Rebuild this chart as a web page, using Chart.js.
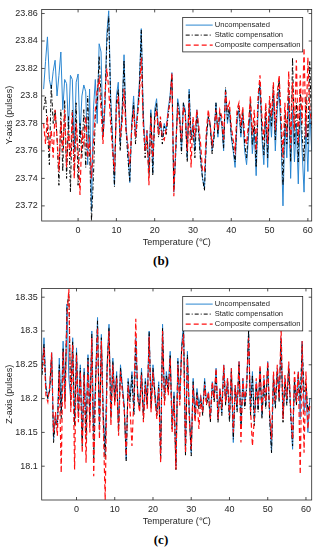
<!DOCTYPE html>
<html>
<head>
<meta charset="utf-8">
<script src="https://cdn.jsdelivr.net/npm/chart.js@4.4.1/dist/chart.umd.min.js"></script>
<style>
body{margin:0;background:#fff;width:322px;height:550px;position:relative;overflow:hidden}
.box{position:absolute;left:0;width:322px;height:250px}
.cap{position:absolute;left:0;width:322px;text-align:center;font:bold 13px/15px "Liberation Serif",serif;color:#000}
</style>
</head>
<body>
<div class="box" style="top:0"><canvas id="chartB"></canvas></div>
<div class="cap" style="top:253px">(b)</div>
<div class="box" style="top:279px"><canvas id="chartC"></canvas></div>
<div class="cap" style="top:532px">(c)</div>
<script>
// temperature samples (℃), shared by both panels
const temps = [-9,-8.5,-8,-7.5,-7,-6.5,-6,-5.5,-5,-4.5,-4,-3.5,-3,-2.5,-2,-1.5,-1,-0.5,0,0.5,1,1.5,2,2.5,3,3.5,4,4.5,5,5.5,6,6.5,7,7.5,8,8.5,9,9.5,10,10.5,11,11.5,12,12.5,13,13.5,14,14.5,15,15.5,16,16.5,17,17.5,18,18.5,19,19.5,20,20.5,21,21.5,22,22.5,23,23.5,24,24.5,25,25.5,26,26.5,27,27.5,28,28.5,29,29.5,30,30.5,31,31.5,32,32.5,33,33.5,34,34.5,35,35.5,36,36.5,37,37.5,38,38.5,39,39.5,40,40.5,41,41.5,42,42.5,43,43.5,44,44.5,45,45.5,46,46.5,47,47.5,48,48.5,49,49.5,50,50.5,51,51.5,52,52.5,53,53.5,54,54.5,55,55.5,56,56.5,57,57.5,58,58.5,59,59.5,60,60.5,61]

const labels = ['Uncompensated','Static compensation','Composite compensation']
const xTicks = [0,10,20,30,40,50,60]

// (b) Y-axis
const yUncomp = [23.805,23.825,23.843,23.812,23.805,23.818,23.826,23.800,23.815,23.832,23.790,23.812,23.809,23.775,23.815,23.812,23.760,23.810,23.816,23.770,23.800,23.808,23.803,23.750,23.805,23.716,23.790,23.812,23.780,23.838,23.832,23.770,23.790,23.845,23.862,23.800,23.770,23.735,23.800,23.810,23.765,23.790,23.830,23.780,23.760,23.737,23.780,23.800,23.770,23.790,23.810,23.849,23.790,23.760,23.775,23.745,23.790,23.744,23.790,23.798,23.775,23.780,23.770,23.780,23.775,23.790,23.800,23.817,23.730,23.760,23.798,23.790,23.760,23.795,23.790,23.755,23.805,23.770,23.780,23.760,23.790,23.775,23.755,23.740,23.733,23.770,23.785,23.780,23.760,23.770,23.795,23.770,23.785,23.780,23.760,23.805,23.780,23.790,23.770,23.760,23.748,23.780,23.790,23.770,23.785,23.760,23.750,23.770,23.790,23.758,23.775,23.742,23.790,23.810,23.770,23.750,23.785,23.748,23.790,23.770,23.800,23.760,23.790,23.805,23.770,23.720,23.780,23.755,23.800,23.740,23.790,23.752,23.780,23.736,23.790,23.760,23.730,23.780,23.745,23.790,23.760]
const yStatic = [23.790,23.800,23.775,23.750,23.808,23.780,23.790,23.770,23.735,23.790,23.745,23.797,23.740,23.785,23.730,23.790,23.745,23.795,23.735,23.780,23.755,23.790,23.748,23.800,23.760,23.709,23.740,23.785,23.795,23.829,23.800,23.772,23.795,23.838,23.858,23.795,23.765,23.734,23.795,23.805,23.760,23.788,23.826,23.776,23.755,23.738,23.778,23.795,23.765,23.785,23.805,23.848,23.785,23.755,23.770,23.742,23.788,23.742,23.785,23.795,23.770,23.782,23.765,23.778,23.772,23.785,23.798,23.815,23.732,23.758,23.795,23.785,23.758,23.795,23.787,23.752,23.803,23.768,23.778,23.755,23.788,23.772,23.752,23.740,23.731,23.768,23.785,23.778,23.758,23.770,23.795,23.772,23.788,23.782,23.762,23.806,23.783,23.792,23.772,23.762,23.752,23.785,23.793,23.773,23.790,23.765,23.755,23.776,23.797,23.764,23.782,23.748,23.796,23.810,23.775,23.757,23.792,23.755,23.797,23.778,23.808,23.768,23.797,23.812,23.778,23.735,23.788,23.765,23.810,23.752,23.828,23.765,23.795,23.752,23.805,23.772,23.752,23.800,23.765,23.825,23.775]
const yComposite = [23.780,23.765,23.785,23.760,23.775,23.755,23.790,23.770,23.745,23.782,23.760,23.790,23.748,23.775,23.755,23.788,23.740,23.780,23.760,23.728,23.775,23.765,23.785,23.755,23.770,23.740,23.765,23.790,23.805,23.812,23.790,23.765,23.800,23.820,23.805,23.780,23.760,23.745,23.790,23.800,23.770,23.780,23.805,23.775,23.765,23.750,23.775,23.790,23.770,23.785,23.800,23.828,23.780,23.760,23.775,23.735,23.785,23.755,23.780,23.790,23.772,23.785,23.770,23.768,23.776,23.788,23.795,23.817,23.727,23.765,23.790,23.782,23.768,23.792,23.785,23.760,23.795,23.748,23.785,23.770,23.790,23.778,23.765,23.745,23.745,23.775,23.790,23.778,23.765,23.775,23.790,23.775,23.790,23.785,23.768,23.803,23.790,23.795,23.778,23.768,23.760,23.790,23.795,23.778,23.792,23.770,23.765,23.780,23.800,23.772,23.790,23.760,23.800,23.815,23.785,23.768,23.795,23.765,23.800,23.785,23.810,23.775,23.802,23.815,23.785,23.755,23.795,23.770,23.818,23.762,23.810,23.775,23.826,23.765,23.815,23.780,23.835,23.770,23.828,23.790,23.780]
const yTicksB = [23.72,23.74,23.76,23.78,23.8,23.82,23.84,23.86]

// (c) Z-axis
const zUncomp = [18.240,18.290,18.220,18.200,18.215,18.268,18.140,18.175,18.160,18.260,18.180,18.285,18.200,18.340,18.230,18.200,18.290,18.165,18.275,18.180,18.250,18.140,18.245,18.150,18.265,18.175,18.300,18.150,18.230,18.320,18.160,18.295,18.180,18.120,18.250,18.310,18.175,18.260,18.200,18.240,18.160,18.250,18.220,18.190,18.110,18.230,18.200,18.240,18.180,18.290,18.210,18.190,18.245,18.175,18.230,18.195,18.300,18.190,18.250,18.210,18.180,18.225,18.115,18.310,18.200,18.240,18.215,18.270,18.160,18.210,18.100,18.260,18.200,18.280,18.310,18.120,18.270,18.180,18.120,18.230,18.175,18.215,18.190,18.205,18.180,18.230,18.195,18.210,18.170,18.225,18.200,18.245,18.170,18.215,18.180,18.250,18.195,18.230,18.170,18.245,18.135,18.220,18.185,18.255,18.160,18.230,18.190,18.220,18.300,18.180,18.240,18.165,18.225,18.185,18.245,18.175,18.230,18.190,18.255,18.175,18.120,18.235,18.190,18.245,18.200,18.290,18.170,18.230,18.195,18.250,18.180,18.125,18.230,18.195,18.240,18.170,18.285,18.180,18.210,18.150,18.200]
const zStatic = [18.235,18.280,18.215,18.200,18.212,18.265,18.135,18.170,18.155,18.250,18.170,18.275,18.195,18.335,18.355,18.190,18.285,18.160,18.268,18.172,18.245,18.130,18.240,18.140,18.260,18.165,18.295,18.110,18.225,18.315,18.150,18.290,18.170,18.110,18.245,18.305,18.170,18.255,18.195,18.235,18.150,18.245,18.215,18.185,18.108,18.225,18.195,18.235,18.175,18.285,18.205,18.185,18.240,18.170,18.225,18.190,18.298,18.185,18.245,18.205,18.175,18.220,18.110,18.305,18.195,18.235,18.210,18.265,18.155,18.205,18.095,18.255,18.195,18.275,18.300,18.115,18.265,18.175,18.115,18.225,18.170,18.210,18.185,18.200,18.175,18.225,18.190,18.205,18.165,18.220,18.195,18.240,18.165,18.210,18.175,18.245,18.190,18.225,18.165,18.240,18.140,18.215,18.180,18.250,18.155,18.225,18.185,18.215,18.302,18.175,18.235,18.160,18.220,18.180,18.240,18.170,18.225,18.185,18.250,18.170,18.120,18.230,18.185,18.240,18.195,18.285,18.165,18.225,18.190,18.245,18.175,18.130,18.225,18.190,18.235,18.200,18.280,18.210,18.225,18.180,18.195]
const zComposite = [18.245,18.275,18.205,18.195,18.220,18.268,18.150,18.180,18.145,18.240,18.090,18.270,18.185,18.320,18.362,18.180,18.280,18.095,18.265,18.165,18.240,18.120,18.235,18.105,18.255,18.150,18.290,18.085,18.220,18.305,18.140,18.285,18.160,18.050,18.240,18.300,18.160,18.250,18.190,18.230,18.145,18.240,18.210,18.180,18.115,18.220,18.185,18.130,18.200,18.318,18.200,18.180,18.235,18.165,18.220,18.185,18.292,18.180,18.240,18.200,18.170,18.215,18.105,18.300,18.190,18.230,18.205,18.260,18.150,18.200,18.095,18.250,18.190,18.270,18.295,18.120,18.260,18.170,18.125,18.220,18.165,18.205,18.155,18.200,18.180,18.220,18.195,18.210,18.170,18.225,18.200,18.245,18.170,18.215,18.185,18.250,18.195,18.230,18.175,18.245,18.150,18.220,18.190,18.255,18.135,18.230,18.195,18.225,18.290,18.185,18.130,18.170,18.230,18.190,18.250,18.180,18.235,18.195,18.255,18.180,18.140,18.240,18.195,18.250,18.200,18.305,18.170,18.235,18.200,18.255,18.185,18.140,18.240,18.195,18.240,18.088,18.285,18.120,18.240,18.155,18.190]
const zTicksC = [18.1,18.15,18.2,18.25,18.3,18.35]

Chart.defaults.font.family = '"Liberation Sans", Arial, sans-serif'
Chart.defaults.font.size = 9
Chart.defaults.color = '#262626'

const styles = [
    {color: '#2a86d1', dash: [], width: 1, order: 3},
    {color: '#000000', dash: [4,2,1,2], width: 1, order: 2},
    {color: '#ff1010', dash: [5,3], width: 1.2, order: 1}
]

// matlab style box, inward ticks and legend inside the axes
const matlabBox = {
    id: 'matlabBox',
    afterDraw(chart){
        const ctx = chart.ctx
        const a = chart.chartArea
        const sx = chart.scales.x
        const sy = chart.scales.y
        ctx.save()
        ctx.strokeStyle = '#262626'
        ctx.lineWidth = 0.8
        ctx.setLineDash([])
        ctx.strokeRect(a.left, a.top, a.right - a.left, a.bottom - a.top)
        ctx.beginPath()
        sx.ticks.forEach(t => {
            const px = sx.getPixelForValue(t.value)
            ctx.moveTo(px, a.bottom); ctx.lineTo(px, a.bottom - 3)
            ctx.moveTo(px, a.top); ctx.lineTo(px, a.top + 3)
        })
        sy.ticks.forEach(t => {
            const py = sy.getPixelForValue(t.value)
            ctx.moveTo(a.left, py); ctx.lineTo(a.left + 3, py)
            ctx.moveTo(a.right, py); ctx.lineTo(a.right - 3, py)
        })
        ctx.stroke()

        // legend
        const w = 120, h = 34.5
        const lx = a.right - 9 - w
        const ly = a.top + 8
        ctx.fillStyle = '#fff'
        ctx.fillRect(lx, ly, w, h)
        ctx.strokeRect(lx, ly, w, h)
        ctx.font = '7.6px "Liberation Sans", Arial, sans-serif'
        ctx.textBaseline = 'middle'
        labels.forEach((lab, i) => {
            const ry = ly + 7.7 + i * 10
            const st = styles[i]
            ctx.beginPath()
            ctx.strokeStyle = st.color
            ctx.lineWidth = st.width
            ctx.setLineDash(st.dash)
            ctx.moveTo(lx + 3, ry); ctx.lineTo(lx + 30, ry)
            ctx.stroke()
            ctx.fillStyle = '#262626'
            ctx.fillText(lab, lx + 32, ry)
        })
        ctx.restore()
    }
}

function makeChart(id, series, yMin, yMax, yTicks, xMin, xMax, yTitle){
    return new Chart(document.getElementById(id), {
        type: 'line',
        data: {
            datasets: series.map((vals, i) => ({
                label: labels[i],
                data: temps.map((t, j) => ({x: t, y: vals[j]})),
                borderColor: styles[i].color,
                borderDash: styles[i].dash,
                borderWidth: styles[i].width,
                order: styles[i].order,
                pointRadius: 0,
                tension: 0,
                fill: false
            }))
        },
        options: {
            responsive: true,
            maintainAspectRatio: false,
            animation: false,
            layout: {padding: {top: 9.3, right: 10.3, left: 0, bottom: 0}},
            plugins: {legend: {display: false}, tooltip: {enabled: false}},
            scales: {
                x: {
                    type: 'linear', min: xMin, max: xMax,
                    grid: {display: false, drawTicks: false},
                    border: {display: false},
                    afterBuildTicks: s => { s.ticks = xTicks.map(v => ({value: v})) },
                    afterFit: s => { s.height = 29 },
                    ticks: {padding: 4, maxRotation: 0, callback: v => String(v)},
                    title: {display: true, text: 'Temperature (℃)', padding: {top: 0, bottom: 2}, font: {size: 9}}
                },
                y: {
                    min: yMin, max: yMax,
                    grid: {display: false, drawTicks: false},
                    border: {display: false},
                    afterBuildTicks: s => { s.ticks = yTicks.map(v => ({value: v})) },
                    afterFit: s => { s.width = 41.7 },
                    ticks: {padding: 4, callback: v => String(+(+v).toFixed(2))},
                    title: {display: true, text: yTitle, padding: {top: 4, bottom: 0}, font: {size: 9}}
                }
            }
        },
        plugins: [matlabBox]
    })
}

makeChart('chartB', [yUncomp, yStatic, yComposite], 23.709, 23.863, yTicksB, -9.5, 61, 'Y-axis (pulses)')
makeChart('chartC', [zUncomp, zStatic, zComposite], 18.05, 18.363, zTicksC, -9.1, 61.5, 'Z-axis (pulses)')
</script>
</body>
</html>
